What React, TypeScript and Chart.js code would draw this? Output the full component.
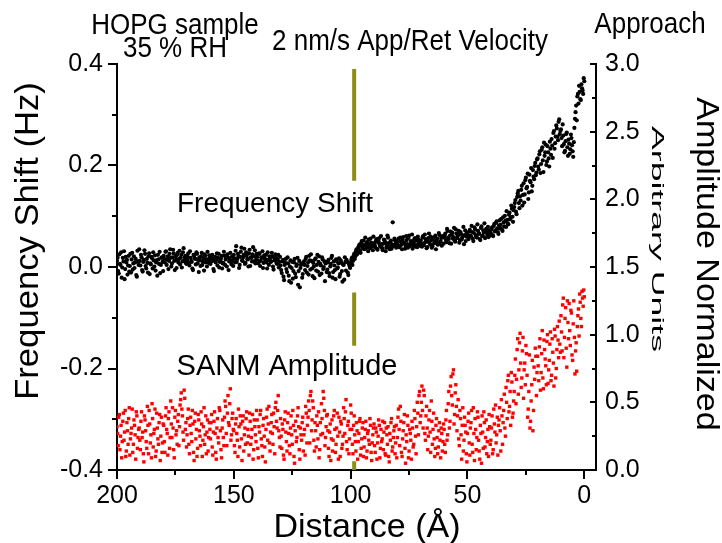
import React, { useEffect, useRef } from 'react';
import { Chart, registerables } from 'chart.js';

Chart.register(...registerables);

// Distance sampling (Å): first sample and spacing between samples
const distanceStart = 200;
const distanceStep = 0.5;

// Frequency shift (Hz), samples at 200, 199.5, ... 0 Å
const freqShift = [
  0.012, -0.008, 0.025, 0.004, -0.021, 0.018, 0.031, -0.004, 0.009, -0.015, 0.022, 0.002, -0.011, 0.028, 0.007, -0.002, 0.016, -0.019, 0.011, 0.035,
  0.003, 0.019, -0.009, 0.014, 0.026, -0.003, 0.008, 0.021, -0.014, 0.005, 0.017, 0.029, 0.001, -0.007, 0.013, 0.024, 0.006, -0.012, 0.018, 0.010,
  0.022, 0.009, 0.031, 0.015, -0.004, 0.026, 0.018, 0.007, 0.034, 0.012, 0.020, -0.002, 0.028, 0.016, 0.005, 0.024, 0.011, 0.037, 0.019, 0.008,
  0.014, 0.027, 0.003, 0.018, 0.010, -0.006, 0.022, 0.016, 0.029, 0.007, -0.010, 0.013, 0.021, 0.004, 0.017, 0.025, 0.009, 0.001, 0.015, 0.023,
  0.006, 0.018, 0.012, -0.008, 0.020, 0.014, 0.003, 0.026, 0.010, 0.017, -0.003, 0.008, 0.022, 0.015, 0.001, 0.019, 0.011, 0.028, 0.005, 0.013,
  0.024, 0.009, 0.041, 0.016, 0.021, 0.004, 0.030, 0.013, 0.019, 0.036, 0.008, 0.022, 0.015, 0.027, 0.002, 0.018, 0.025, 0.011, 0.033, 0.014,
  0.020, 0.007, 0.026, 0.012, 0.018, -0.002, 0.023, 0.015, 0.009, 0.029, 0.004, 0.017, 0.011, 0.021, -0.005, 0.013, 0.019, 0.006, 0.024, 0.010,
  0.003, -0.012, 0.014, -0.026, 0.008, -0.004, 0.019, -0.017, 0.001, -0.031, 0.010, -0.008, 0.016, -0.020, 0.005, -0.035, 0.012, -0.002, 0.007, -0.014,
  0.011, -0.006, 0.020, 0.002, -0.015, 0.013, 0.025, -0.003, 0.008, -0.022, 0.017, 0.004, -0.009, 0.021, 0.006, -0.013, 0.015, 0.000, -0.028, 0.010,
  -0.005, 0.014, -0.018, 0.006, 0.022, -0.010, 0.003, -0.024, 0.012, -0.001, 0.017, -0.014, 0.008, -0.029, 0.004, 0.019, -0.007, 0.010, -0.016, 0.002,
  0.008, 0.018, 0.012, 0.026, 0.021, 0.035, 0.029, 0.041, 0.033, 0.047, 0.038, 0.052, 0.043, 0.036, 0.049, 0.031, 0.045, 0.056, 0.040, 0.033,
  0.047, 0.039, 0.055, 0.034, 0.050, 0.042, 0.061, 0.037, 0.046, 0.053, 0.031, 0.044, 0.058, 0.040, 0.049, 0.036, 0.088, 0.043, 0.052, 0.038,
  0.045, 0.056, 0.041, 0.050, 0.035, 0.059, 0.047, 0.042, 0.053, 0.038, 0.062, 0.044, 0.051, 0.036, 0.048, 0.057, 0.043, 0.039, 0.054, 0.046,
  0.052, 0.040, 0.061, 0.047, 0.055, 0.037, 0.050, 0.066, 0.044, 0.053, 0.041, 0.058, 0.049, 0.035, 0.056, 0.045, 0.063, 0.051, 0.042, 0.059,
  0.058, 0.066, 0.049, 0.071, 0.055, 0.062, 0.046, 0.068, 0.059, 0.052, 0.074, 0.057, 0.063, 0.048, 0.069, 0.054, 0.061, 0.045, 0.072, 0.060,
  0.064, 0.055, 0.073, 0.060, 0.069, 0.051, 0.078, 0.063, 0.058, 0.071, 0.066, 0.053, 0.080, 0.062, 0.068, 0.057, 0.075, 0.064, 0.059, 0.072,
  0.067, 0.078, 0.061, 0.085, 0.072, 0.090, 0.069, 0.082, 0.076, 0.095, 0.071, 0.088, 0.101, 0.079, 0.093, 0.084, 0.107, 0.098, 0.115, 0.089,
  0.118, 0.132, 0.104, 0.145, 0.126, 0.139, 0.152, 0.121, 0.165, 0.143, 0.176, 0.158, 0.134, 0.182, 0.167, 0.149, 0.191, 0.173, 0.205, 0.186,
  0.214, 0.192, 0.228, 0.203, 0.236, 0.187, 0.219, 0.241, 0.208, 0.226, 0.198, 0.233, 0.252, 0.215, 0.268, 0.244, 0.279, 0.257, 0.286, 0.262,
  0.271, 0.238, 0.259, 0.226, 0.248, 0.265, 0.219, 0.243, 0.232, 0.254, 0.228, 0.246, 0.292, 0.318, 0.336, 0.322, 0.345, 0.329, 0.352, 0.341,
  0.366,
];

// Frequency shift (Hz), in-between samples at 199.75, 199.25, ... 0.25 Å
const freqShiftMid = [
  0.018, -0.013, 0.006, 0.029, -0.001, 0.011, -0.024, 0.020, 0.014, 0.003, -0.009, 0.026, 0.015, -0.005, 0.021, 0.009, -0.016, 0.032, 0.004, 0.012,
  0.024, -0.006, 0.010, 0.033, 0.002, 0.016, -0.011, 0.027, 0.007, 0.020, -0.003, 0.013, 0.023, 0.009, -0.017, 0.015, 0.030, 0.004, 0.019, -0.008,
  0.016, 0.030, 0.004, 0.021, 0.012, 0.035, 0.001, 0.019, 0.027, -0.006, 0.014, 0.024, 0.009, 0.032, 0.018, -0.001, 0.029, 0.013, 0.022, 0.006,
  0.020, 0.008, 0.031, 0.012, -0.003, 0.024, 0.017, 0.005, 0.026, 0.014, 0.019, 0.002, 0.028, 0.011, -0.007, 0.022, 0.015, 0.030, 0.008, 0.018,
  0.012, 0.024, -0.004, 0.016, 0.009, 0.027, 0.018, -0.001, 0.013, 0.022, 0.007, 0.030, 0.004, 0.019, 0.025, -0.006, 0.016, 0.010, 0.021, 0.002,
  0.017, 0.032, 0.010, 0.026, -0.002, 0.020, 0.038, 0.012, 0.024, 0.006, 0.029, 0.016, 0.001, 0.034, 0.019, 0.011, 0.039, 0.021, 0.007, 0.026,
  0.013, 0.027, 0.002, 0.019, 0.031, 0.008, 0.016, 0.024, -0.003, 0.014, 0.021, 0.010, 0.028, 0.001, 0.018, 0.025, 0.008, 0.015, -0.001, 0.020,
  -0.006, 0.011, -0.019, 0.004, 0.016, -0.010, 0.007, -0.028, 0.013, -0.002, -0.023, 0.009, -0.013, 0.002, 0.018, -0.008, -0.040, 0.004, -0.021, 0.006,
  0.004, 0.016, -0.011, 0.009, 0.022, -0.005, 0.012, -0.018, 0.001, 0.015, -0.007, 0.024, 0.010, -0.016, 0.003, 0.019, -0.004, 0.011, 0.007, -0.010,
  0.009, -0.012, 0.001, 0.018, -0.021, 0.011, -0.006, 0.015, -0.003, 0.007, -0.019, 0.013, -0.008, 0.005, -0.025, 0.010, 0.014, -0.011, 0.006, -0.002,
  0.014, 0.004, 0.022, 0.016, 0.031, 0.025, 0.038, 0.044, 0.028, 0.051, 0.042, 0.035, 0.058, 0.046, 0.039, 0.054, 0.037, 0.048, 0.042, 0.060,
  0.043, 0.051, 0.036, 0.048, 0.057, 0.040, 0.045, 0.033, 0.054, 0.049, 0.038, 0.062, 0.047, 0.035, 0.052, 0.044, 0.041, 0.056, 0.046, 0.050,
  0.051, 0.039, 0.058, 0.044, 0.053, 0.048, 0.036, 0.061, 0.045, 0.057, 0.041, 0.050, 0.064, 0.043, 0.055, 0.040, 0.052, 0.060, 0.047, 0.042,
  0.046, 0.058, 0.043, 0.064, 0.050, 0.039, 0.057, 0.048, 0.060, 0.038, 0.055, 0.047, 0.062, 0.052, 0.044, 0.067, 0.049, 0.057, 0.061, 0.046,
  0.062, 0.053, 0.075, 0.058, 0.047, 0.070, 0.064, 0.056, 0.077, 0.050, 0.066, 0.060, 0.071, 0.053, 0.065, 0.058, 0.079, 0.063, 0.051, 0.068,
  0.059, 0.070, 0.062, 0.081, 0.056, 0.067, 0.074, 0.060, 0.084, 0.065, 0.055, 0.077, 0.061, 0.072, 0.086, 0.058, 0.069, 0.079, 0.066, 0.062,
  0.074, 0.063, 0.081, 0.070, 0.087, 0.076, 0.065, 0.092, 0.083, 0.074, 0.098, 0.080, 0.091, 0.110, 0.086, 0.103, 0.094, 0.121, 0.099, 0.112,
  0.126, 0.109, 0.138, 0.150, 0.116, 0.131, 0.160, 0.142, 0.127, 0.171, 0.155, 0.184, 0.147, 0.170, 0.195, 0.160, 0.178, 0.199, 0.181, 0.212,
  0.198, 0.222, 0.185, 0.231, 0.210, 0.245, 0.226, 0.201, 0.238, 0.214, 0.247, 0.221, 0.239, 0.264, 0.233, 0.257, 0.273, 0.250, 0.291, 0.268,
  0.254, 0.281, 0.242, 0.229, 0.262, 0.236, 0.251, 0.223, 0.261, 0.240, 0.217, 0.274, 0.305, 0.289, 0.341, 0.357, 0.331, 0.360, 0.348, 0.372,
];

// SANM amplitude (normalized, arbitrary units), samples at 200, 199.5, ... 0 Å
const sanmAmplitude = [
  0.32, 0.18, 0.41, 0.25, 0.09, 0.36, 0.22, 0.44, 0.14, 0.29, 0.38, 0.11, 0.27, 0.45, 0.19, 0.33, 0.08, 0.40, 0.24, 0.31,
  0.15, 0.43, 0.28, 0.06, 0.37, 0.21, 0.47, 0.12, 0.34, 0.26, 0.49, 0.17, 0.30, 0.10, 0.42, 0.23, 0.35, 0.07, 0.39, 0.20,
  0.33, 0.13, 0.46, 0.27, 0.38, 0.16, 0.51, 0.24, 0.31, 0.09, 0.44, 0.29, 0.36, 0.18, 0.48, 0.57, 0.40, 0.22, 0.53, 0.35,
  0.26, 0.45, 0.12, 0.39, 0.21, 0.34, 0.07, 0.42, 0.30, 0.16, 0.37, 0.25, 0.43, 0.10, 0.32, 0.19, 0.40, 0.28, 0.14, 0.35,
  0.23, 0.41, 0.11, 0.36, 0.27, 0.08, 0.38, 0.20, 0.44, 0.15, 0.31, 0.24, 0.39, 0.47, 0.18, 0.55, 0.33, 0.60, 0.26, 0.42,
  0.29, 0.13, 0.38, 0.22, 0.45, 0.17, 0.34, 0.07, 0.40, 0.26, 0.19, 0.43, 0.30, 0.11, 0.36, 0.24, 0.41, 0.15, 0.32, 0.21,
  0.37, 0.09, 0.28, 0.44, 0.18, 0.33, 0.25, 0.06, 0.39, 0.22, 0.47, 0.14, 0.35, 0.27, 0.42, 0.12, 0.50, 0.31, 0.55, 0.24,
  0.38, 0.16, 0.30, 0.08, 0.43, 0.21, 0.35, 0.27, 0.12, 0.40, 0.19, 0.33, 0.05, 0.36, 0.24, 0.46, 0.15, 0.31, 0.22, 0.39,
  0.26, 0.11, 0.42, 0.33, 0.51, 0.20, 0.58, 0.37, 0.46, 0.14, 0.29, 0.40, 0.23, 0.09, 0.35, 0.49, 0.27, 0.53, 0.18, 0.32,
  0.41, 0.16, 0.28, 0.07, 0.37, 0.22, 0.44, 0.13, 0.31, 0.25, 0.39, 0.10, 0.34, 0.19, 0.46, 0.27, 0.52, 0.15, 0.36, 0.23,
  0.48, 0.30, 0.12, 0.40, 0.21, 0.35, 0.08, 0.27, 0.38, 0.16, 0.31, 0.10, 0.24, 0.36, 0.14, 0.29, 0.19, 0.33, 0.07, 0.26,
  0.34, 0.13, 0.28, 0.20, 0.37, 0.09, 0.30, 0.23, 0.15, 0.35, 0.11, 0.26, 0.32, 0.06, 0.22, 0.38, 0.17, 0.29, 0.12, 0.33,
  0.24, 0.45, 0.18, 0.36, 0.10, 0.29, 0.41, 0.05, 0.21, 0.33, 0.14, 0.27, 0.08, 0.31, 0.19, 0.38, 0.12, 0.50, 0.26, 0.58,
  0.40, 0.62, 0.31, 0.55, 0.22, 0.47, 0.15, 0.37, 0.28, 0.51, 0.19, 0.42, 0.10, 0.33, 0.24, 0.17, 0.35, 0.09, 0.27, 0.21,
  0.30, 0.13, 0.44, 0.26, 0.58, 0.36, 0.69, 0.48, 0.74, 0.41, 0.63, 0.29, 0.52, 0.18, 0.38, 0.08, 0.46, 0.22, 0.33, 0.12,
  0.27, 0.42, 0.11, 0.35, 0.19, 0.46, 0.07, 0.30, 0.24, 0.39, 0.14, 0.33, 0.05, 0.28, 0.43, 0.17, 0.37, 0.21, 0.10, 0.32,
  0.22, 0.40, 0.15, 0.34, 0.48, 0.26, 0.11, 0.37, 0.29, 0.52, 0.19, 0.44, 0.31, 0.61, 0.38, 0.70, 0.47, 0.33, 0.65, 0.42,
  0.58, 0.82, 0.67, 0.97, 0.74, 1.01, 0.61, 0.88, 0.53, 0.79, 0.92, 0.70, 0.45, 0.85, 0.36, 0.63, 0.29, 0.76, 0.90, 0.55,
  0.84, 0.66, 0.97, 0.72, 1.03, 0.60, 0.89, 0.77, 0.95, 0.64, 0.81, 1.02, 0.70, 0.87, 0.62, 0.99, 0.75, 1.06, 0.83, 0.93,
  1.14, 0.88, 1.27, 0.98, 1.20, 0.76, 1.09, 1.23, 0.92, 1.16, 0.81, 1.25, 0.71, 0.94, 1.06, 1.19, 1.30, 1.12, 1.32, 1.21,
  1.28,
];

// SANM amplitude, in-between samples at 199.75, 199.25, ... 0.25 Å
const sanmAmplitudeMid = [
  0.27, 0.39, 0.15, 0.33, 0.21, 0.42, 0.28, 0.10, 0.35, 0.19, 0.46, 0.23, 0.31, 0.13, 0.37, 0.26, 0.43, 0.16, 0.30, 0.22,
  0.36, 0.24, 0.12, 0.40, 0.29, 0.16, 0.33, 0.44, 0.20, 0.09, 0.38, 0.27, 0.45, 0.14, 0.31, 0.19, 0.41, 0.25, 0.13, 0.34,
  0.21, 0.40, 0.30, 0.11, 0.43, 0.24, 0.34, 0.46, 0.15, 0.39, 0.26, 0.19, 0.41, 0.32, 0.52, 0.45, 0.28, 0.59, 0.30, 0.17,
  0.38, 0.19, 0.33, 0.27, 0.44, 0.13, 0.36, 0.23, 0.10, 0.41, 0.29, 0.18, 0.34, 0.22, 0.46, 0.26, 0.12, 0.37, 0.24, 0.30,
  0.35, 0.17, 0.28, 0.43, 0.13, 0.31, 0.24, 0.46, 0.29, 0.09, 0.37, 0.18, 0.51, 0.27, 0.42, 0.35, 0.49, 0.22, 0.38, 0.30,
  0.18, 0.34, 0.27, 0.10, 0.32, 0.40, 0.23, 0.36, 0.14, 0.31, 0.38, 0.20, 0.25, 0.42, 0.19, 0.30, 0.08, 0.37, 0.26, 0.44,
  0.16, 0.32, 0.41, 0.23, 0.10, 0.38, 0.17, 0.30, 0.45, 0.34, 0.20, 0.28, 0.41, 0.19, 0.32, 0.46, 0.36, 0.44, 0.29, 0.17,
  0.25, 0.34, 0.11, 0.37, 0.28, 0.14, 0.42, 0.18, 0.31, 0.26, 0.44, 0.10, 0.29, 0.21, 0.40, 0.32, 0.08, 0.26, 0.35, 0.14,
  0.30, 0.47, 0.20, 0.39, 0.44, 0.55, 0.29, 0.51, 0.22, 0.35, 0.17, 0.33, 0.43, 0.15, 0.26, 0.38, 0.58, 0.44, 0.24, 0.40,
  0.29, 0.10, 0.34, 0.23, 0.14, 0.40, 0.30, 0.19, 0.42, 0.08, 0.28, 0.36, 0.16, 0.25, 0.38, 0.43, 0.21, 0.33, 0.12, 0.30,
  0.42, 0.19, 0.33, 0.26, 0.14, 0.29, 0.21, 0.36, 0.11, 0.23, 0.35, 0.17, 0.30, 0.09, 0.27, 0.22, 0.38, 0.13, 0.20, 0.31,
  0.18, 0.31, 0.08, 0.25, 0.33, 0.16, 0.21, 0.36, 0.28, 0.12, 0.31, 0.19, 0.10, 0.27, 0.35, 0.14, 0.24, 0.32, 0.20, 0.09,
  0.39, 0.30, 0.47, 0.13, 0.23, 0.35, 0.16, 0.26, 0.40, 0.09, 0.30, 0.22, 0.36, 0.17, 0.44, 0.25, 0.32, 0.42, 0.55, 0.35,
  0.50, 0.44, 0.59, 0.27, 0.40, 0.31, 0.25, 0.44, 0.13, 0.36, 0.30, 0.23, 0.16, 0.38, 0.12, 0.29, 0.22, 0.31, 0.14, 0.34,
  0.19, 0.37, 0.22, 0.49, 0.31, 0.62, 0.55, 0.71, 0.34, 0.57, 0.47, 0.40, 0.23, 0.44, 0.26, 0.33, 0.14, 0.39, 0.28, 0.06,
  0.36, 0.20, 0.31, 0.44, 0.13, 0.27, 0.38, 0.15, 0.43, 0.22, 0.08, 0.27, 0.40, 0.16, 0.35, 0.24, 0.12, 0.30, 0.41, 0.19,
  0.31, 0.12, 0.45, 0.28, 0.20, 0.39, 0.33, 0.46, 0.14, 0.40, 0.35, 0.56, 0.25, 0.50, 0.66, 0.43, 0.58, 0.72, 0.39, 0.51,
  0.70, 0.49, 0.89, 0.56, 0.94, 0.79, 0.68, 0.98, 0.74, 0.63, 0.86, 0.39, 0.58, 0.31, 0.51, 0.81, 0.44, 0.67, 0.84, 0.72,
  0.77, 0.91, 0.59, 0.86, 0.68, 0.96, 0.82, 0.63, 1.00, 0.74, 0.93, 0.66, 0.97, 0.79, 1.04, 0.68, 0.89, 0.96, 1.10, 0.87,
  1.02, 1.22, 0.83, 1.12, 0.90, 1.25, 0.97, 1.03, 1.18, 0.85, 1.08, 0.98, 0.88, 0.73, 1.14, 0.99, 1.24, 1.06, 1.27, 1.33,
];

// Axis tick values
const xTicks = [200, 150, 100, 50, 0];
const xMinorTicks = [175, 125, 75, 25];
const freqTicks = [0.4, 0.2, 0.0, -0.2, -0.4];
const freqMinorTicks = [0.3, 0.1, -0.1, -0.3];
const ampTicks = [0, 0.5, 1.0, 1.5, 2.0, 2.5, 3.0];
const ampMinorTicks = [0.25, 0.75, 1.25, 1.75, 2.25, 2.75];

// Vertical App/Ret marker (distance, and Hz spans of its dashes)
const markerDistance = 98.5;
const markerSegments = [
  [0.39, 0.17],
  [-0.05, -0.155],
  [-0.383, -0.4],
];

const FONT = '"Liberation Sans", Arial, Helvetica, sans-serif';

const decorPlugin = {
  id: 'decor',
  afterDraw(chart: any) {
    const { ctx, chartArea, scales } = chart;
    const xs = scales.x;
    const ys = scales.y;
    const y2 = scales.y2;
    ctx.save();
    ctx.strokeStyle = '#000';
    ctx.lineWidth = 2;
    ctx.beginPath();
    freqTicks.forEach((v) => {
      const p = Math.round(ys.getPixelForValue(v));
      ctx.moveTo(chartArea.left - 9, p);
      ctx.lineTo(chartArea.left, p);
    });
    freqMinorTicks.forEach((v) => {
      const p = Math.round(ys.getPixelForValue(v));
      ctx.moveTo(chartArea.left - 5, p);
      ctx.lineTo(chartArea.left, p);
    });
    xTicks.forEach((v) => {
      const p = Math.round(xs.getPixelForValue(v));
      ctx.moveTo(p, chartArea.bottom);
      ctx.lineTo(p, chartArea.bottom + 9);
    });
    xMinorTicks.forEach((v) => {
      const p = Math.round(xs.getPixelForValue(v));
      ctx.moveTo(p, chartArea.bottom);
      ctx.lineTo(p, chartArea.bottom + 5);
    });
    ampTicks.forEach((v) => {
      const p = Math.round(y2.getPixelForValue(v));
      ctx.moveTo(chartArea.right - 6, p);
      ctx.lineTo(chartArea.right, p);
    });
    ampMinorTicks.forEach((v) => {
      const p = Math.round(y2.getPixelForValue(v));
      ctx.moveTo(chartArea.right - 4, p);
      ctx.lineTo(chartArea.right, p);
    });
    ctx.stroke();

    ctx.fillStyle = '#000';
    const text = (s: string, x: number, y: number, size: number, sx = 1, sy = 1, rot = 0) => {
      ctx.save();
      ctx.translate(x, y);
      if (rot) ctx.rotate(rot);
      ctx.scale(sx, sy);
      ctx.font = `${size}px ${FONT}`;
      ctx.textAlign = 'center';
      ctx.textBaseline = 'alphabetic';
      ctx.fillText(s, 0, 0);
      ctx.restore();
    };
    text('HOPG sample', 175, 34, 26, 1, 1.1);
    text('35 % RH', 175, 57, 26, 1, 1.1);
    text('2 nm/s App/Ret Velocity', 410, 50, 26, 1, 1.1);
    text('Approach', 650, 33, 26, 1, 1.1);
    text('Frequency Shift', 275, 212, 28);
    text('SANM Amplitude', 287, 375, 29);
    text('Distance (Å)', 367, 537, 34);
    text('Frequency Shift (Hz)', 38, 241, 33, 1.05, 1, -Math.PI / 2);
    text('Amplitude Normalized', 697, 264, 31, 1.1, 1, Math.PI / 2);
    text('Arbitrary Units', 652, 239, 17, 2.1, 0.95, Math.PI / 2);
    ctx.restore();
  },
};

export default function App() {
  const canvasRef = useRef<HTMLCanvasElement | null>(null);

  useEffect(() => {
    const canvas = canvasRef.current;
    if (!canvas) return;
    const at = (i: number) => distanceStart - i * distanceStep;
    const atMid = (i: number) => distanceStart - distanceStep / 2 - i * distanceStep;
    const blackPts = [
      ...freqShift.map((v, i) => ({ x: at(i), y: v })),
      ...freqShiftMid.map((v, i) => ({ x: atMid(i), y: v })),
    ];
    const redPts = [
      ...sanmAmplitude.map((v, i) => ({ x: at(i), y: v })),
      ...sanmAmplitudeMid.map((v, i) => ({ x: atMid(i), y: v })),
    ];
    const markerPts: any[] = [];
    markerSegments.forEach(([a, b]) => {
      markerPts.push({ x: markerDistance, y: a });
      markerPts.push({ x: markerDistance, y: b });
      markerPts.push({ x: markerDistance, y: null });
    });

    const tickFont = { family: FONT, size: 25 };
    const chart = new Chart(canvas, {
      type: 'scatter',
      data: {
        datasets: [
          {
            type: 'line',
            label: 'App/Ret marker',
            data: markerPts,
            yAxisID: 'y',
            borderColor: '#8c8c16',
            borderWidth: 4,
            pointRadius: 0,
            spanGaps: false,
            borderCapStyle: 'butt',
            order: 3,
          } as any,
          {
            label: 'SANM Amplitude',
            data: redPts,
            yAxisID: 'y2',
            pointStyle: 'rect',
            pointRadius: 2.4,
            pointBackgroundColor: '#ff0000',
            pointBorderWidth: 0,
            order: 2,
          } as any,
          {
            label: 'Frequency Shift',
            data: blackPts,
            yAxisID: 'y',
            pointRadius: 2.1,
            pointBackgroundColor: '#000000',
            pointBorderWidth: 0,
            order: 1,
          } as any,
        ],
      },
      options: {
        responsive: false,
        animation: false,
        devicePixelRatio: 1,
        layout: { padding: { top: 64, left: 0, right: 0, bottom: 0 } },
        plugins: { legend: { display: false }, tooltip: { enabled: false } },
        scales: {
          x: {
            type: 'linear',
            position: 'bottom',
            reverse: true,
            min: -5,
            max: 200,
            afterBuildTicks: (s: any) => {
              s.ticks = xTicks.map((v) => ({ value: v }));
            },
            afterFit: (s: any) => {
              s.height = 73;
            },
            grid: { drawOnChartArea: false, drawTicks: false },
            border: { display: true, color: '#000', width: 2 },
            ticks: {
              padding: 11,
              color: '#000',
              font: tickFont,
              maxRotation: 0,
              autoSkip: false,
              callback: (v: any) => String(v),
            },
          },
          y: {
            type: 'linear',
            position: 'left',
            min: -0.4,
            max: 0.4,
            afterBuildTicks: (s: any) => {
              s.ticks = freqTicks.map((v) => ({ value: v }));
            },
            afterFit: (s: any) => {
              s.width = 117;
            },
            grid: { drawOnChartArea: false, drawTicks: false },
            border: { display: true, color: '#000', width: 2 },
            ticks: {
              padding: 14,
              color: '#000',
              font: tickFont,
              autoSkip: false,
              callback: (v: any) => Number(v).toFixed(1),
            },
          },
          y2: {
            type: 'linear',
            position: 'right',
            min: 0,
            max: 3,
            afterBuildTicks: (s: any) => {
              s.ticks = ampTicks.map((v) => ({ value: v }));
            },
            afterFit: (s: any) => {
              s.width = 126;
            },
            grid: { drawOnChartArea: false, drawTicks: false },
            border: { display: true, color: '#000', width: 2 },
            ticks: {
              padding: 9,
              color: '#000',
              font: tickFont,
              autoSkip: false,
              callback: (v: any) => Number(v).toFixed(1),
            },
          },
        },
      },
      plugins: [decorPlugin],
    } as any);
    return () => chart.destroy();
  }, []);

  return (
    <div style={{ position: 'absolute', left: 0, top: 0, width: 722, height: 543, background: '#fff' }}>
      <canvas ref={canvasRef} width={722} height={543} style={{ display: 'block' }} />
    </div>
  );
}
